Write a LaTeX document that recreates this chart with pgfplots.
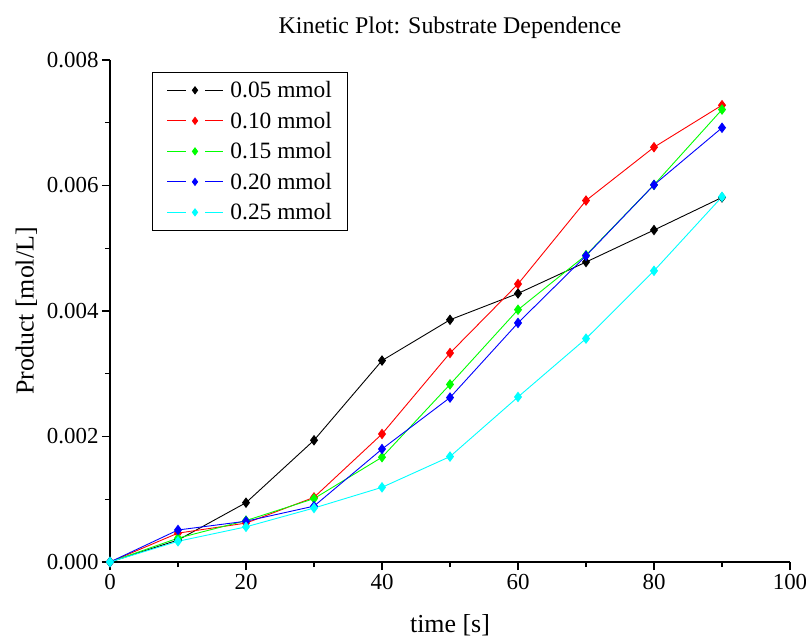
\documentclass[border=0pt]{standalone}
\usepackage{fontspec}
\setmainfont{Liberation Serif}
\usepackage{pgfplots}
\pgfplotsset{compat=1.18}
\definecolor{cgreen}{RGB}{0,255,0}
\definecolor{ccyan}{RGB}{0,255,255}
\definecolor{cblue}{RGB}{0,0,255}
\definecolor{cred}{RGB}{255,0,0}
\begin{document}
\begin{tikzpicture}[x=1bp,y=1bp]
\useasboundingbox (0,0) rectangle (806bp,638bp);
\begin{axis}[
  at={(110bp,76bp)}, anchor=origin,
  scale only axis, width=680bp, height=502bp,
  xmin=0, xmax=100, ymin=0, ymax=0.008,
  axis x line*=bottom, axis y line*=left,
  axis line style={line width=1.4pt, -},
  tick align=outside, tick style={line width=1.2pt, black},
  major tick length=8bp, minor tick length=5bp,
  minor tick num=1,
  xtick={0,20,...,100},
  ytick={0,0.002,0.004,0.006,0.008},
  scaled y ticks=false,
  yticklabel style={/pgf/number format/.cd, fixed, fixed zerofill, precision=3},
  /pgf/number format/assume math mode=true,
  tick label style={font=\fontsize{23}{26}\selectfont},
  xticklabel style={yshift=-1bp},
  label style={font=\fontsize{26}{29}\selectfont},
  xlabel={time [s]}, ylabel={Product [mol/L]},
  xlabel style={yshift=-18bp},
  ylabel style={yshift=3bp},
  title={Kinetic Plot: Substrate Dependence},
  title style={font=\fontsize{24}{27}\selectfont, yshift=12bp},
  legend style={at={(0.062,0.976)}, anchor=north west, draw=black, line width=0.8pt,
    font=\fontsize{23.5}{27}\selectfont, row sep=8.8bp, inner xsep=14bp, inner ysep=7bp,
    legend cell align=left},
  legend image code/.code={
    \draw[#1, mark=none] plot coordinates {(0bp,0bp) (19bp,0bp)};
    \draw[#1, mark=none] plot coordinates {(38bp,0bp) (56bp,0bp)};
    \draw[#1, only marks, mark size=3.5bp] plot coordinates {(28bp,0bp)};
  },
  every axis plot/.append style={line width=0.9pt, mark=diamond*, mark size=4.6bp},
  clip=false,
]
\addplot[color=black, mark options={fill=black}] coordinates {
(0,0) (10,0.00035) (20,0.000945) (30,0.00194) (40,0.00321) (50,0.00386)
(60,0.00428) (70,0.00478) (80,0.00529) (90,0.00581)};
\addlegendentry{\hspace{5bp}0.05 mmol}
\addplot[color=cred, mark options={fill=cred}] coordinates {
(0,0) (10,0.00046) (20,0.00062) (30,0.00103) (40,0.00204) (50,0.00333)
(60,0.00443) (70,0.00576) (80,0.00661) (90,0.00728)};
\addlegendentry{\hspace{5bp}0.10 mmol}
\addplot[color=cgreen, mark options={fill=cgreen}] coordinates {
(0,0) (10,0.00038) (20,0.00066) (30,0.00101) (40,0.00167) (50,0.00283)
(60,0.00402) (70,0.00489) (80,0.00601) (90,0.00721)};
\addlegendentry{\hspace{5bp}0.15 mmol}
\addplot[color=cblue, mark options={fill=cblue}] coordinates {
(0,0) (10,0.00051) (20,0.00065) (30,0.00089) (40,0.00180) (50,0.00262)
(60,0.00381) (70,0.00488) (80,0.00601) (90,0.00692)};
\addlegendentry{\hspace{5bp}0.20 mmol}
\addplot[color=ccyan, mark options={fill=ccyan}] coordinates {
(0,0) (10,0.00033) (20,0.00056) (30,0.00086) (40,0.00119) (50,0.00168)
(60,0.00263) (70,0.00356) (80,0.00464) (90,0.00582)};
\addlegendentry{\hspace{5bp}0.25 mmol}
\end{axis}
\end{tikzpicture}
\end{document}
